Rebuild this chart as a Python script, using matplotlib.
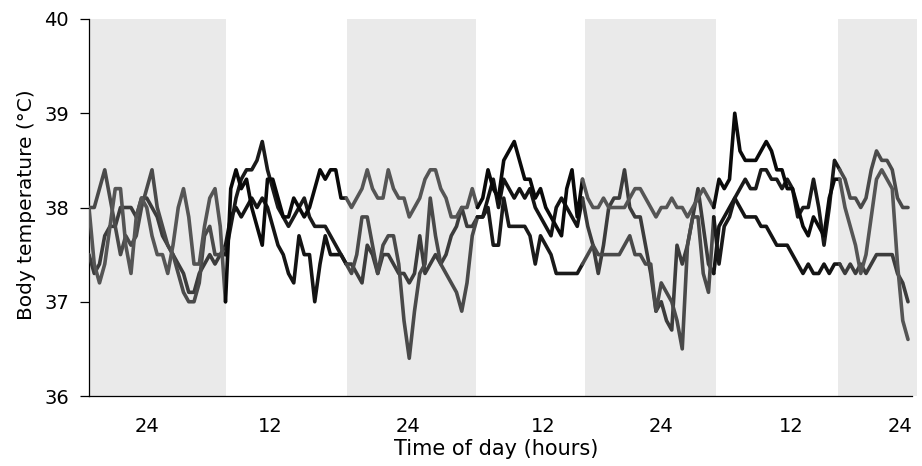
import numpy as np
import matplotlib
matplotlib.use("Agg")
import matplotlib.pyplot as plt

# Body temperature of three animals, one reading every 30 minutes (hours from start)
hours = np.arange(157) * 0.5

temp_a = [38.0, 38.0, 38.2, 38.4, 38.1, 37.8, 37.5, 37.7, 37.6, 37.7, 38.0, 38.2, 38.4, 38.0, 37.8, 37.6, 37.5, 37.3, 37.1, 37.0, 37.0, 37.2, 37.7, 37.8, 37.5, 37.5, 37.5,
          37.8, 38.1, 38.3, 38.4, 38.4, 38.5, 38.7, 38.4, 38.2, 38.0, 37.9, 37.8, 37.9, 38.0, 38.1, 37.9, 37.8, 37.8, 37.8, 37.7, 37.6, 37.5, 37.4,
          37.3, 37.5, 37.9, 37.9, 37.6, 37.3, 37.6, 37.7, 37.7, 37.4, 36.8, 36.4, 36.9, 37.3, 37.4, 38.1, 37.7, 37.4, 37.3, 37.2, 37.1, 36.9, 37.2, 37.7, 37.9,
          37.9, 38.0, 37.6, 37.6, 38.1, 37.8, 37.8, 37.8, 37.8, 37.7, 37.4, 37.7, 37.6, 37.5, 37.3, 37.3, 37.3, 37.3, 37.3, 37.4,
          37.5, 37.6, 37.5, 37.5, 37.5, 37.5, 37.5, 37.6, 37.7, 37.5, 37.5, 37.4, 37.4, 36.9, 37.2, 37.1, 37.0, 36.8, 36.5, 37.6, 37.9, 37.9, 37.3, 37.1, 37.9,
          37.4, 37.8, 37.9, 38.1, 38.2, 38.3, 38.2, 38.2, 38.4, 38.4, 38.3, 38.3, 38.2, 38.3, 38.2, 37.9, 38.0, 38.0, 38.3, 38.0, 37.6, 38.0, 38.5,
          38.4, 38.3, 38.1, 38.1, 38.0, 38.1, 38.4, 38.6, 38.5, 38.5, 38.4, 38.1, 38.0, 38.0]

temp_b = [38.0, 37.4, 37.2, 37.4, 37.8, 38.2, 38.2, 37.6, 37.3, 37.9, 38.1, 38.0, 37.7, 37.5, 37.5, 37.3, 37.6, 38.0, 38.2, 37.9, 37.4, 37.4, 37.8, 38.1, 38.2, 37.8, 37.0,
          38.2, 38.4, 38.2, 38.3, 38.0, 37.8, 37.6, 38.3, 38.3, 38.1, 37.9, 37.9, 38.1, 38.0, 37.9, 38.0, 38.2, 38.4, 38.3, 38.4, 38.4, 38.1, 38.1,
          38.0, 38.1, 38.2, 38.4, 38.2, 38.1, 38.1, 38.4, 38.2, 38.1, 38.1, 37.9, 38.0, 38.1, 38.3, 38.4, 38.4, 38.2, 38.1, 37.9, 37.9, 38.0, 38.0, 38.2, 38.0,
          38.1, 38.4, 38.2, 38.1, 38.5, 38.6, 38.7, 38.5, 38.3, 38.3, 38.1, 38.2, 38.0, 37.9, 37.8, 37.7, 38.2, 38.4, 37.9, 38.3,
          38.1, 38.0, 38.0, 38.1, 38.0, 38.0, 38.0, 38.0, 38.1, 38.2, 38.2, 38.1, 38.0, 37.9, 38.0, 38.0, 38.1, 38.0, 38.0, 37.9, 38.0, 38.1, 38.2, 38.1, 38.0,
          38.3, 38.2, 38.3, 39.0, 38.6, 38.5, 38.5, 38.5, 38.6, 38.7, 38.6, 38.4, 38.4, 38.2, 38.2, 38.0, 37.8, 37.7, 37.9, 37.8, 37.7, 38.1, 38.3,
          38.3, 38.0, 37.8, 37.6, 37.3, 37.5, 37.9, 38.3, 38.4, 38.3, 38.2, 37.4, 36.8, 36.6]

temp_c = [37.5, 37.3, 37.4, 37.7, 37.8, 37.8, 38.0, 38.0, 38.0, 37.9, 38.1, 38.1, 38.0, 37.9, 37.7, 37.6, 37.5, 37.4, 37.3, 37.1, 37.1, 37.3, 37.4, 37.5, 37.4, 37.5, 37.6,
          37.9, 38.0, 37.9, 38.0, 38.1, 38.0, 38.1, 38.0, 37.8, 37.6, 37.5, 37.3, 37.2, 37.7, 37.5, 37.5, 37.0, 37.4, 37.7, 37.5, 37.5, 37.5, 37.4,
          37.4, 37.3, 37.2, 37.6, 37.5, 37.3, 37.5, 37.5, 37.4, 37.3, 37.3, 37.2, 37.3, 37.7, 37.3, 37.4, 37.5, 37.4, 37.5, 37.7, 37.8, 38.0, 37.8, 37.8, 37.9,
          37.9, 38.1, 38.3, 38.0, 38.3, 38.2, 38.1, 38.2, 38.1, 38.2, 38.0, 37.9, 37.8, 37.7, 38.0, 38.1, 38.0, 37.9, 37.8, 38.1,
          37.8, 37.6, 37.3, 37.6, 38.0, 38.1, 38.1, 38.4, 38.0, 37.9, 37.9, 37.6, 37.3, 36.9, 37.0, 36.8, 36.7, 37.6, 37.4, 37.6, 37.9, 38.2, 37.8, 37.4, 37.3,
          37.8, 37.9, 38.0, 38.1, 38.0, 37.9, 37.9, 37.9, 37.8, 37.8, 37.7, 37.6, 37.6, 37.6, 37.5, 37.4, 37.3, 37.4, 37.3, 37.3, 37.4, 37.3, 37.4,
          37.4, 37.3, 37.4, 37.3, 37.4, 37.3, 37.4, 37.5, 37.5, 37.5, 37.5, 37.3, 37.2, 37.0]

# Dark (lights-off) periods, hours from start
dark_start = [0.0, 24.6, 47.2, 71.3]
dark_end = [13.05, 36.85, 59.7, 78.9]

# Clock-time labels along the time axis
tick_hours = [5.5, 17.3, 30.4, 43.3, 54.5, 66.9, 77.2]
tick_labels = ["24", "12", "24", "12", "24", "12", "24"]

y_ticks = [36, 37, 38, 39, 40]

plt.rcParams["font.family"] = ["DejaVu Sans"]

fig = plt.figure(figsize=(9.22, 4.66), dpi=100)
fig.patch.set_facecolor("white")
ax = fig.add_axes([89 / 922, 70 / 466, 823.2 / 922, 377 / 466])
ax.set_xlim(0, 78.4)
ax.set_ylim(36, 40)

for s, e in zip(dark_start, dark_end):
    ax.axvspan(s, e, facecolor="#eaeaea", edgecolor="none", zorder=0, clip_on=False)


def in_dark(t):
    return any(s <= t < e for s, e in zip(dark_start, dark_end))


def draw_trace(values, day_color, night_color):
    y = np.asarray(values, dtype=float)
    mids = (hours[:-1] + hours[1:]) / 2
    flags = [in_dark(m) for m in mids]
    start = 0
    for k in range(1, len(flags) + 1):
        if k == len(flags) or flags[k] != flags[start]:
            col = night_color if flags[start] else day_color
            ax.plot(hours[start:k + 1], y[start:k + 1], color=col, lw=2.6,
                    solid_joinstyle="round", solid_capstyle="round", zorder=3)
            start = k


draw_trace(temp_c, "#141414", "#3c3c3c")
draw_trace(temp_a, "#1a1a1a", "#4a4a4a")
draw_trace(temp_b, "#0a0a0a", "#555555")

for side in ("top", "right"):
    ax.spines[side].set_visible(False)
for side in ("left", "bottom"):
    ax.spines[side].set_color("black")
    ax.spines[side].set_linewidth(0.9)

ax.set_yticks(y_ticks)
ax.set_yticklabels([str(v) for v in y_ticks])
ax.tick_params(axis="y", direction="out", length=6.5, width=0.9, pad=8, labelsize=14)
ax.set_xticks(tick_hours)
ax.set_xticklabels(tick_labels)
ax.tick_params(axis="x", length=0, pad=15, labelsize=14)

fig.text(496 / 922, 1 - 449 / 466, "Time of day (hours)", ha="center", va="center", fontsize=15)
fig.text(26 / 922, 1 - 205 / 466, "Body temperature (°C)", ha="center", va="center",
         rotation=90, fontsize=14.5)

fig.savefig("out.png", dpi=100, facecolor="white")
